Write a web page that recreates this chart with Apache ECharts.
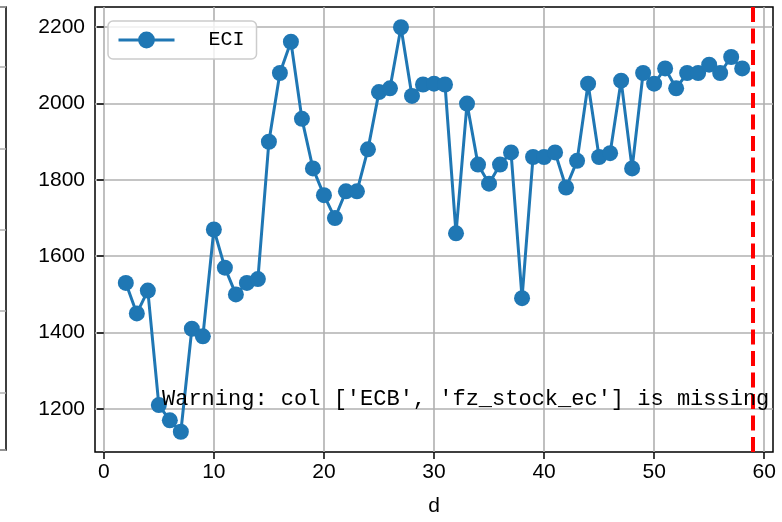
<!DOCTYPE html>
<html>
<head>
<meta charset="utf-8">
<script src="https://cdn.jsdelivr.net/npm/echarts@6/dist/echarts.min.js"></script>
<style>
  html, body { margin: 0; padding: 0; background: #fff; }
  #chart { width: 782px; height: 522px; }
</style>
</head>
<body>
<div id="chart"></div>
<script>
// ---- data ----
const days = [2,3,4,5,6,7,8,9,10,11,12,13,14,15,16,17,18,19,20,21,22,23,24,25,26,27,28,29,30,31,
              32,33,34,35,36,37,38,39,40,41,42,43,44,45,46,47,48,49,50,51,52,53,54,55,56,57,58];
const eci = [1530,1450,1510,1210,1170,1140,1410,1390,1670,1570,1500,1530,1540,1900,2080,2162,1960,1830,
             1760,1700,1770,1770,1880,2030,2040,2200,2020,2050,2052,2050,1660,2000,1840,1790,1840,1872,
             1490,1860,1860,1872,1780,1850,2052,1860,1870,2060,1830,2080,2052,2092,2040,2080,2080,2102,
             2080,2122,2092];
const cutoffDay = 59;
const xTicks = [0,10,20,30,40,50,60];
const yTicks = [1200,1400,1600,1800,2000,2200];
const seriesName = 'ECI';
const warningText = "Warning: col ['ECB', 'fz_stock_ec'] is missing";
const xName = 'd';

const chart = echarts.init(document.getElementById('chart'), null, { renderer: 'canvas' });
const tickFont = "'Liberation Sans Narrow', 'Liberation Sans', sans-serif";
const monoFont = "'Liberation Mono', 'DejaVu Sans Mono', monospace";

const option = {
  animation: false,
  backgroundColor: '#fff',
  grid: [
    { left: 95, right: 9, top: 7, bottom: 70, show: true, borderColor: '#000', borderWidth: 1.5, backgroundColor: 'transparent', containLabel: false, outerBoundsMode: 'none' },
    { left: -100, right: 776, top: 7, bottom: 72, show: true, borderColor: '#000', borderWidth: 1.5, backgroundColor: 'transparent', containLabel: false, outerBoundsMode: 'none' }
  ],
  xAxis: [
    {
      type: 'value', gridIndex: 0, min: -0.8, max: 60.8,
      name: xName, nameLocation: 'middle', nameGap: 44,
      nameTextStyle: { fontFamily: tickFont, fontSize: 21, color: '#000' },
      axisLine: { show: false },
      axisTick: { show: true, customValues: xTicks, length: 7, lineStyle: { color: '#000', width: 1.5 } },
      axisLabel: { customValues: xTicks, fontFamily: tickFont, fontSize: 21, color: '#000', margin: 10 },
      splitLine: { show: true, lineStyle: { color: '#b0b0b0', width: 1.6 } }
    },
    { type: 'value', gridIndex: 1, min: 0, max: 1, show: false }
  ],
  yAxis: [
    {
      type: 'value', gridIndex: 0, min: 1087, max: 2253,
      axisLine: { show: false },
      axisTick: { show: true, customValues: yTicks, length: 7, lineStyle: { color: '#000', width: 1.5 } },
      axisLabel: { customValues: yTicks, formatter: v => String(v), fontFamily: tickFont, fontSize: 21, color: '#000', margin: 10 },
      splitLine: { show: true, lineStyle: { color: '#b0b0b0', width: 1.6 } }
    },
    {
      type: 'value', gridIndex: 1, min: -0.71, max: 4.74, splitNumber: 5,
      axisLine: { show: false }, axisTick: { show: false }, axisLabel: { show: false },
      splitLine: { show: true, lineStyle: { color: '#b0b0b0', width: 1.6 } }
    }
  ],
  legend: {
    left: 108, top: 21,
    padding: [9, 12, 9, 9],
    itemWidth: 56, itemHeight: 21,
    backgroundColor: 'rgba(255,255,255,0.8)',
    borderColor: '#cccccc', borderWidth: 1.5, borderRadius: 5,
    lineStyle: { width: 3 },
    textStyle: { fontFamily: monoFont, fontSize: 20, color: '#000', padding: [0, 0, 0, 29] },
    data: [seriesName]
  },
  series: [
    {
      name: seriesName,
      type: 'line',
      xAxisIndex: 0, yAxisIndex: 0,
      data: days.map((d, i) => [d, eci[i]]),
      symbol: 'circle', symbolSize: 16, showAllSymbol: true,
      lineStyle: { color: '#1f77b4', width: 3 },
      itemStyle: { color: '#1f77b4' },
      markLine: {
        silent: true, symbol: ['none', 'none'],
        label: { show: false },
        lineStyle: { color: '#ff0000', type: [15, 6.5], width: 4 },
        data: [{ xAxis: cutoffDay }]
      },
      z: 3
    }
  ],
  graphic: [
    {
      type: 'text', left: 162, top: 388, z: 10,
      style: { text: warningText, fontFamily: monoFont, fontSize: 22, fill: '#000' }
    }
  ]
};
chart.setOption(option);
</script>
</body>
</html>
